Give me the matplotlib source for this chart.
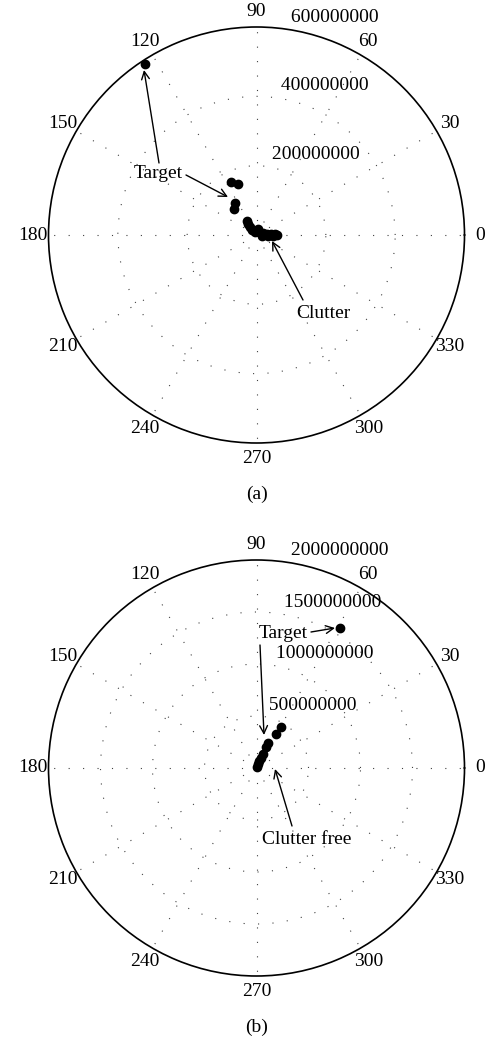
import numpy as np
import matplotlib
matplotlib.use("Agg")
import matplotlib.pyplot as plt

plt.rcParams['font.family'] = ['Liberation Serif', 'DejaVu Serif']

W, H = 486, 1044

# ---------------- data ----------------
# (a) target / clutter, angle in degrees, magnitude
a_target_theta = [123.2, 116, 110, 124.5, 131.5]
a_target_r = [590e6, 170e6, 157e6, 112e6, 100e6]
a_clutter_theta = [124, 128, 129, 132, 117, 50, 17, 5, 4, 3, 0, -10, -5, -3.5, 76]
a_clutter_r = [49e6, 40e6, 30e6, 19e6, 10e6, 11e6, 20e6, 30e6, 42e6, 53e6, 59e6,
               16e6, 33e6, 48e6, 18e6]
a_rings = [200e6, 400e6, 600e6]
a_ring_labels = ['200000000', '400000000', '600000000']

# (b) clutter free
b_target_theta = [59.2, 59.1, 60.2, 65.3, 65.7, 65.1, 65.8, 70, 69, 63]
b_target_r = [1567e6, 459e6, 377e6, 265e6, 221e6, 148e6, 105e6, 71e6, 41e6, 11e6]
b_rings = [500e6, 1000e6, 1500e6, 2000e6]
b_ring_labels = ['500000000', '1000000000', '1500000000', '2000000000']

angle_ticks = list(range(0, 360, 30))
angle_labels = [str(a) for a in angle_ticks]

FS = 14


def fig_px(x, y):
    return (x / W, 1 - y / H)


fig = plt.figure(figsize=(W / 100, H / 100), dpi=100)


def make_polar(cy, rings, ring_labels):
    r_px = 208
    cx = 256.5
    left = (cx - r_px) / W
    bottom = (H - cy - r_px) / H
    ax = fig.add_axes([left, bottom, 2 * r_px / W, 2 * r_px / H], projection='polar')
    rmax = rings[-1]
    ax.set_ylim(0, rmax)
    ax.set_xticks(np.deg2rad(angle_ticks))
    ax.set_xticklabels([])
    ax.set_yticks(rings[:-1])
    ax.set_yticklabels([])
    ax.grid(True, linestyle=(0, (1, 12)), lw=0.8, color='0.25')
    ax.spines['polar'].set_linewidth(1.2)
    ax.tick_params(length=0)
    for a, lab in zip(angle_ticks, angle_labels):
        ax.text(np.deg2rad(a), 1.075 * rmax, lab, ha='center', va='center',
                fontsize=FS, clip_on=False)
    rinc = rings[0]
    for r, lab in zip(rings, ring_labels):
        ax.text(np.deg2rad(82), r + rinc / 20, ' ' + lab, ha='left', va='bottom',
                fontsize=FS, clip_on=False)
    return ax


axa = make_polar(235, a_rings, a_ring_labels)
axa.plot(np.deg2rad(a_target_theta), a_target_r, 'o', color='k', ms=6, clip_on=False)
axa.plot(np.deg2rad(a_clutter_theta), a_clutter_r, 'o', color='k', ms=6, clip_on=False)

axb = make_polar(768, b_rings, b_ring_labels)
axb.plot(np.deg2rad(b_target_theta), b_target_r, 'o', color='k', ms=6, clip_on=False)

arrow = dict(arrowstyle='->', lw=1.0, color='k', mutation_scale=14,
             shrinkA=0, shrinkB=0)


def label(x, y, s):
    fig.text(*fig_px(x, y), s, ha='center', va='center', fontsize=FS)


def arr(x0, y0, x1, y1):
    fig.add_artist(matplotlib.patches.FancyArrowPatch(
        fig_px(x0, y0), fig_px(x1, y1), transform=fig.transFigure, **arrow))


# (a) annotations
label(158, 173, 'Target')
arr(186, 175, 228, 197)
arr(159, 163, 144, 70)
label(323, 314, 'Clutter')
arr(303, 300, 272, 241)
label(256.5, 494, '(a)')

# (b) annotations
label(283, 633, 'Target')
arr(260, 645, 264, 735)
arr(311, 632, 335, 628)
label(307, 839, 'Clutter free')
arr(292, 826, 275, 769)
label(256.5, 1027, '(b)')

fig.savefig('out.png', dpi=100)
